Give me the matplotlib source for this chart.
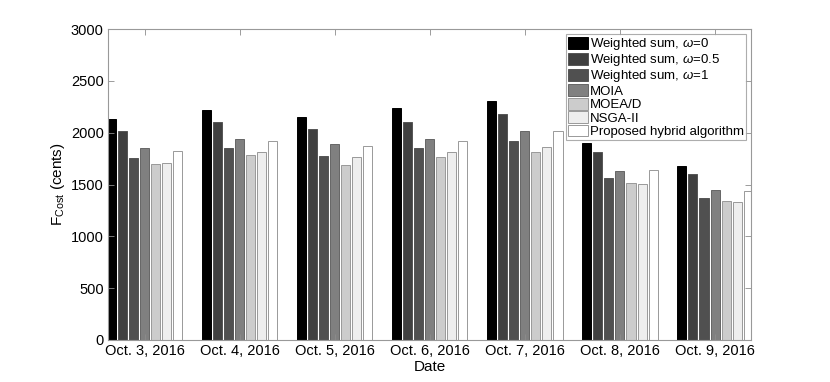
import numpy as np
import matplotlib
matplotlib.use("Agg")
import matplotlib.pyplot as plt

plt.rcParams["font.family"] = ["Liberation Sans", "DejaVu Sans"]
plt.rcParams["mathtext.fontset"] = "custom"
plt.rcParams["mathtext.rm"] = "Liberation Sans"
plt.rcParams["mathtext.it"] = "Liberation Sans:italic"

dates = ["Oct. 3, 2016", "Oct. 4, 2016", "Oct. 5, 2016", "Oct. 6, 2016",
         "Oct. 7, 2016", "Oct. 8, 2016", "Oct. 9, 2016"]
methods = [r"Weighted sum, $\omega$=0", r"Weighted sum, $\omega$=0.5",
           r"Weighted sum, $\omega$=1", "MOIA", "MOEA/D", "NSGA-II",
           "Proposed hybrid algorithm"]

ws_0 = [2131, 2219, 2148, 2235, 2309, 1903, 1675]
ws_05 = [2016, 2103, 2032, 2106, 2180, 1813, 1601]
ws_1 = [1752, 1849, 1775, 1855, 1920, 1560, 1373]
moia = [1849, 1942, 1888, 1939, 2013, 1627, 1444]
moead = [1701, 1788, 1691, 1762, 1811, 1511, 1344]
nsga2 = [1707, 1811, 1762, 1817, 1862, 1508, 1334]
hybrid = [1826, 1917, 1868, 1917, 2013, 1637, 1437]

series = [ws_0, ws_05, ws_1, moia, moead, nsga2, hybrid]
colors = ["#000000", "#404040", "#505050", "#808080", "#cccccc", "#eeeeee", "#ffffff"]
edges = ["#000000", "#555555", "#555555", "#666666", "#999999", "#999999", "#999999"]

fig = plt.figure(figsize=(8.3, 3.82), dpi=100)
ax = fig.add_axes([0.130, 0.110, 0.775, 0.814])

x = np.arange(1, len(dates) + 1)
pitch = 0.116
width = 0.095
for i, (vals, c, ec) in enumerate(zip(series, colors, edges)):
    ax.bar(x + (i - 3) * pitch, vals, width, color=c, edgecolor=ec,
           linewidth=0.7, label=methods[i])

ax.set_xlim(0.613, 7.38)
ax.set_ylim(0, 3000)
ax.set_yticks(np.arange(0, 3001, 500))
ax.set_xticks(x)
ax.set_xticklabels(dates)
ax.tick_params(direction="in", length=4, width=0.6, color="0.55",
               labelsize=10.5, top=True, right=True, pad=3)
for s in ax.spines.values():
    s.set_color("0.6")
    s.set_linewidth(0.8)

ax.set_xlabel("Date", fontsize=11, labelpad=1)
ax.set_ylabel(r"F$_{\mathrm{Cost}}$ (cents)", fontsize=11, labelpad=3)

leg = ax.legend(loc="upper right", fontsize=9.5, frameon=True, fancybox=False,
                borderpad=0.15, labelspacing=0.0, handlelength=1.5,
                handleheight=1.0, handletextpad=0.15, borderaxespad=0.4)
leg.get_frame().set_edgecolor("0.6")
leg.get_frame().set_linewidth(0.8)

fig.savefig("out.png", dpi=100)
